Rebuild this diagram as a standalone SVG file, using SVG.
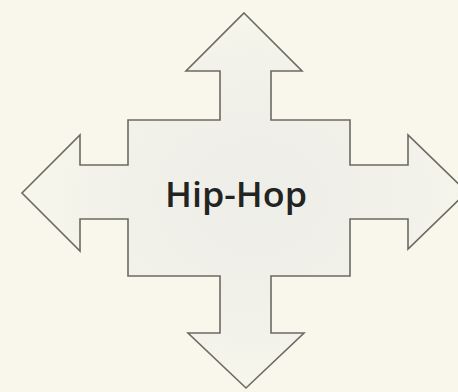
<svg xmlns="http://www.w3.org/2000/svg" width="458" height="392" viewBox="0 0 458 392">
  <defs>
    <radialGradient id="centerTint" cx="0.53" cy="0.49" r="0.5">
      <stop offset="0" stop-color="#eeeee8"/>
      <stop offset="0.6" stop-color="#f1f0e9"/>
      <stop offset="1" stop-color="#f7f6ec"/>
    </radialGradient>
  </defs>
  <style>
    .bg { fill: #f9f7ec; }
    .shape { fill: url(#centerTint); stroke: #6b6a63; stroke-width: 1.6; stroke-linejoin: miter; }
    .label { font-family: "Open Sans", "Liberation Sans", sans-serif; font-weight: 600; font-size: 35px; fill: #232321; }
  </style>
  <rect class="bg" x="0" y="0" width="458" height="392"/>
  <g id="hiphop-arrows">
    <polygon class="shape" points="244,13 302,71 271,71 271,120 350,120 350,165 408,165 408,135 467,192 408,249 408,219 350,219 350,276 271,276 271,333 304,333 246,388 188,333 220,333 220,276 128,276 128,219 80,219 80,251 22,193 80,135 80,165 128,165 128,120 220,120 220,71 186,71"/>
    <text class="label" x="165" y="207" textLength="142" lengthAdjust="spacingAndGlyphs">Hip-Hop</text>
  </g>
  <g id="connectors"/>
</svg>
